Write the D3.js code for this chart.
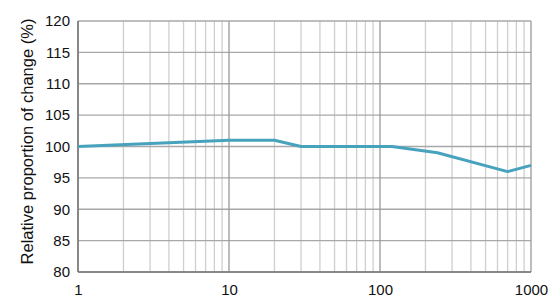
<!DOCTYPE html>
<html>
<head>
<meta charset="utf-8">
<script src="https://cdn.jsdelivr.net/npm/d3@7"></script>
<style>
  body { margin: 0; background: #fff; }
  text { font-family: "Liberation Sans", Arial, sans-serif; fill: #111; }
</style>
</head>
<body>
<div id="chart-area"></div>
<script>
// data
const xValues = [1, 10, 20, 30, 120, 240, 700, 1000];
const yValues = [100, 101, 101, 100, 100, 99, 96, 97];
const xTicks = [1, 10, 100, 1000];
const yTicks = [80, 85, 90, 95, 100, 105, 110, 115, 120];
const yLabel = "Relative proportion of change (%)";

const margin = { left: 78, right: 28, top: 21, bottom: 33 };
const width = 559 - margin.left - margin.right,
      height = 305 - margin.top - margin.bottom;

const svg = d3.select("#chart-area")
  .append("svg")
    .attr("width", 559)
    .attr("height", 305);

const g = svg.append("g")
    .attr("transform", "translate(" + margin.left + ", " + margin.top + ")");

const xScale = d3.scaleLog()
  .domain([1, 1000])
  .range([0, width]);

const yScale = d3.scaleLinear()
  .domain([80, 120])
  .range([height, 0]);

// minor vertical grid (2..9 of each decade)
const minor = [];
[1, 10, 100].forEach((dec) => {
  for (let k = 2; k <= 9; k++) minor.push(dec * k);
});

g.selectAll(".minor")
  .data(minor)
  .enter().append("line")
    .attr("x1", (d) => xScale(d)).attr("x2", (d) => xScale(d))
    .attr("y1", 0).attr("y2", height)
    .attr("stroke", "#cfcfcf")
    .attr("stroke-width", 1.3);

// horizontal grid
g.selectAll(".hgrid")
  .data(yTicks)
  .enter().append("line")
    .attr("x1", 0).attr("x2", width)
    .attr("y1", (d) => yScale(d)).attr("y2", (d) => yScale(d))
    .attr("stroke", "#a8a8a8")
    .attr("stroke-width", 1.3);

// decade lines
g.selectAll(".major")
  .data(xTicks)
  .enter().append("line")
    .attr("x1", (d) => xScale(d)).attr("x2", (d) => xScale(d))
    .attr("y1", 0).attr("y2", height)
    .attr("stroke", "#999")
    .attr("stroke-width", 1.3);

// axes frame (left + bottom darker)
g.append("line")
  .attr("x1", 0).attr("x2", 0).attr("y1", 0).attr("y2", height)
  .attr("stroke", "#777").attr("stroke-width", 1.5);
g.append("line")
  .attr("x1", 0).attr("x2", width).attr("y1", height).attr("y2", height)
  .attr("stroke", "#777").attr("stroke-width", 1.5);

// tick labels
const yAxis = d3.axisLeft(yScale).tickValues(yTicks).tickSize(0).tickPadding(8);
g.append("g").call(yAxis)
  .call((s) => s.select(".domain").remove())
  .selectAll("text")
    .style("font-size", "15px")
    .style("font-family", "'Liberation Sans', Arial, sans-serif")
    .attr("fill", "#111");

const xAxis = d3.axisBottom(xScale).tickValues(xTicks).tickFormat(d3.format("d")).tickSize(0).tickPadding(12);
g.append("g")
  .attr("transform", "translate(0," + height + ")")
  .call(xAxis)
  .call((s) => s.select(".domain").remove())
  .selectAll("text")
    .style("font-size", "15px")
    .style("font-family", "'Liberation Sans', Arial, sans-serif")
    .attr("fill", "#111");

// y axis title
svg.append("text")
  .attr("transform", "translate(27," + (margin.top + height / 2 - 5) + ") rotate(-90)")
  .attr("text-anchor", "middle")
  .attr("dy", "0.35em")
  .style("font-size", "16.5px")
  .text(yLabel);

// series line
const points = xValues.map((x, i) => [x, yValues[i]]);
const line = d3.line()
  .x((d) => xScale(d[0]))
  .y((d) => yScale(d[1]));

g.append("path")
  .datum(points)
  .attr("d", line)
  .attr("fill", "none")
  .attr("stroke", "#46a2bd")
  .attr("stroke-width", 3)
  .attr("stroke-linejoin", "round");
</script>
</body>
</html>
